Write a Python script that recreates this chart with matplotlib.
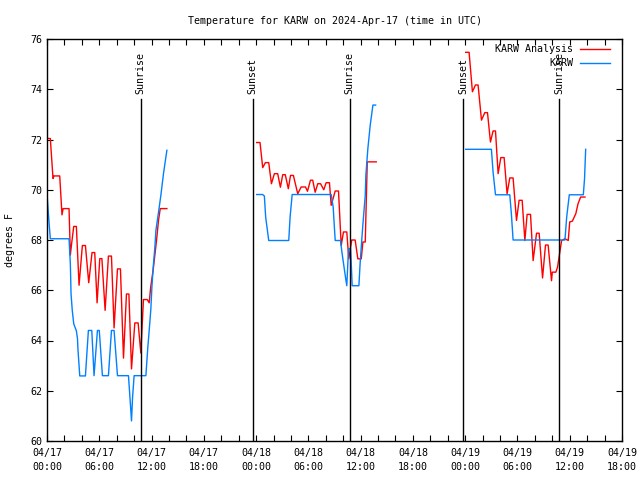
import numpy as np
import matplotlib
matplotlib.use("Agg")
import matplotlib.pyplot as plt
from matplotlib.ticker import MultipleLocator, FuncFormatter

plt.rcParams['font.family'] = 'DejaVu Sans Mono'
plt.rcParams['font.size'] = 7.2

# hours since 2024-04-17 00:00 UTC, temperatures in degrees F
# KARW Analysis (red), one list pair per day
ana_h1 = [0, 0.38, 0.69, 0.8, 1.46, 1.72, 1.85, 2.53, 2.68, 2.8, 3.07, 3.37, 3.68, 4.06, 4.41,
          4.79, 5.17, 5.48, 5.75, 6.06, 6.3, 6.67, 7.05, 7.4, 7.7, 8.09, 8.43, 8.78, 9.12, 9.4,
          9.7, 10.08, 10.46, 10.77, 11.07, 11.5, 11.73, 11.9, 12.2, 12.57, 12.8, 13.0, 13.76]
ana_t1 = [72.04, 72.04, 70.45, 70.55, 70.55, 69.0, 69.25, 69.25, 67.4, 67.78, 68.54, 68.54, 66.2, 67.78, 67.78,
          66.3, 67.5, 67.5, 65.5, 67.26, 67.26, 65.2, 67.36, 67.36, 64.5, 66.85, 66.85, 63.3, 65.85, 65.85,
          62.87, 64.7, 64.7, 63.5, 65.63, 65.63, 65.5, 66.12, 66.85, 67.98, 68.78, 69.25, 69.25]
ana_h2 = [24.07, 24.45, 24.76, 25.07, 25.45, 25.76, 26.1, 26.48, 26.79, 27.06, 27.35, 27.7, 27.95, 28.28,
          28.78, 29.17, 29.67, 29.9, 30.24, 30.5, 30.78, 31.08, 31.4, 31.77, 32.04, 32.42, 32.62, 33.08,
          33.46, 33.77, 34.03, 34.41, 34.64, 34.98, 35.37, 35.68, 36.07, 36.26, 36.53, 36.76, 37.79]
ana_t2 = [71.88, 71.88, 70.88, 71.08, 71.08, 70.24, 70.64, 70.64, 70.1, 70.6, 70.6, 70.04, 70.57, 70.57,
          69.84, 70.11, 70.11, 69.94, 70.38, 70.38, 69.9, 70.24, 70.24, 70.0, 70.28, 70.28, 69.38, 69.95,
          69.95, 67.78, 68.32, 68.32, 67.25, 68.0, 68.0, 67.25, 67.25, 67.92, 67.92, 71.11, 71.11]
ana_h3 = [48.06, 48.45, 48.83, 49.18, 49.48, 49.87, 50.25, 50.56, 50.9, 51.2, 51.48, 51.78, 52.09, 52.47,
          52.81, 53.12, 53.5, 53.89, 54.19, 54.54, 54.85, 55.11, 55.5, 55.8, 56.19, 56.49, 56.88, 57.22,
          57.52, 57.91, 58.0, 58.41, 58.6, 59.07, 59.45, 59.83, 60.0, 60.3, 60.7, 60.95, 61.25, 61.75]
ana_t3 = [75.47, 75.47, 73.9, 74.17, 74.17, 72.77, 73.07, 73.07, 71.9, 72.34, 72.34, 70.64, 71.28, 71.28,
          69.84, 70.47, 70.47, 68.78, 69.58, 69.58, 67.98, 69.02, 69.02, 67.18, 68.27, 68.27, 66.49, 67.8,
          67.8, 66.38, 66.72, 66.72, 66.92, 67.98, 68.05, 67.98, 68.72, 68.75, 69.05, 69.44, 69.71, 69.71]

# KARW observations (blue)
obs_h1 = [0, 0.19, 0.38, 2.53, 2.6, 2.68, 2.76, 2.9, 3.07, 3.37, 3.5, 3.55, 3.76, 4.41, 4.75, 5.14,
          5.4, 5.79, 6.0, 6.36, 7.05, 7.4, 7.7, 8.09, 9.35, 9.43, 9.6, 9.7, 9.82, 10.0, 11.35, 11.57,
          11.73, 11.92, 12.04, 12.19, 12.38, 12.5, 12.88, 13.07, 13.37, 13.76]
obs_t1 = [69.84, 68.9, 68.05, 68.05, 67.58, 67.05, 65.85, 65.2, 64.66, 64.39, 64.07, 63.67, 62.59, 62.59, 64.4, 64.4,
          62.6, 64.4, 64.4, 62.6, 62.6, 64.4, 64.4, 62.6, 62.6, 62.2, 61.33, 60.8, 61.73, 62.6, 62.6, 63.72,
          64.4, 65.25, 66.12, 66.92, 67.7, 68.38, 69.3, 69.78, 70.64, 71.57]
obs_h2 = [24.07, 24.75, 24.95, 25.1, 25.45, 27.75, 27.9, 28.14, 32.62, 32.85, 33.08, 33.69, 33.85, 34.26,
          34.41, 34.61, 34.85, 35.03, 35.8, 35.95, 36.14, 36.25, 36.53, 36.6, 36.83, 37.1, 37.41, 37.72]
obs_t2 = [69.81, 69.81, 69.75, 68.91, 67.98, 67.98, 68.9, 69.81, 69.81, 69.3, 67.98, 67.98, 67.52, 66.52,
          66.18, 67.65, 67.65, 66.18, 66.18, 67.12, 68.05, 68.58, 69.78, 70.58, 71.64, 72.57, 73.37, 73.37]
obs_h3 = [48.06, 51.01, 51.2, 51.48, 53.12, 53.3, 53.5, 59.45, 59.65, 59.95, 61.56, 61.7, 61.83]
obs_t3 = [71.61, 71.61, 70.71, 69.8, 69.8, 69.05, 68.0, 68.0, 68.91, 69.8, 69.8, 70.44, 71.61]

sun_hours = [10.77, 23.6, 34.76, 47.75, 58.79]
sun_names = ["Sunrise", "Sunset", "Sunrise", "Sunset", "Sunrise"]
day_names = ["04/17", "04/18", "04/19"]


def join_days(hs, ts):
    x, y = [], []
    for h, t in zip(hs, ts):
        x += h + [np.nan]
        y += t + [np.nan]
    return x, y


ana_x, ana_y = join_days([ana_h1, ana_h2, ana_h3], [ana_t1, ana_t2, ana_t3])
obs_x, obs_y = join_days([obs_h1, obs_h2, obs_h3], [obs_t1, obs_t2, obs_t3])

fig = plt.figure(figsize=(6.4, 4.8), dpi=100)
ax = fig.add_axes([47/640, 39/480, 575/640, 402/480])

ax.plot(ana_x, ana_y, color="#ff0000", lw=1.0, label="KARW Analysis")
ax.plot(obs_x, obs_y, color="#0080ff", lw=1.0, label="KARW")

for h, name in zip(sun_hours, sun_names):
    ax.plot([h, h], [60, 73.6], color="black", lw=1.0)
    ax.text(h, 73.8, name, rotation=90, ha="center", va="bottom")

ax.set_xlim(0, 66)
ax.set_ylim(60, 76)
ax.xaxis.set_major_locator(MultipleLocator(6))
ax.xaxis.set_minor_locator(MultipleLocator(2))
ax.yaxis.set_major_locator(MultipleLocator(2))


def hour_label(v, pos):
    d = int(round(v) // 24)
    if d < 0 or d >= len(day_names):
        return ""
    return "%s\n%02d:00" % (day_names[d], int(round(v) % 24))


ax.xaxis.set_major_formatter(FuncFormatter(hour_label))
ax.tick_params(which="both", direction="in", top=True, right=True, length=4, width=0.8)
ax.tick_params(axis="x", pad=5)
for lbl in ax.get_xticklabels():
    lbl.set_linespacing(1.55)
for s in ax.spines.values():
    s.set_linewidth(1.0)

ax.set_ylabel("degrees F", labelpad=11)
ax.set_title("Temperature for KARW on 2024-Apr-17 (time in UTC)", fontsize=7.2, pad=11)

ax.legend(loc="upper right", frameon=False, markerfirst=False, handlelength=3.0,
          handletextpad=0.75, labelspacing=0.4, borderaxespad=0.2, borderpad=0.1,
          bbox_to_anchor=(0.985, 0.995))

fig.savefig("out.png", dpi=100)
